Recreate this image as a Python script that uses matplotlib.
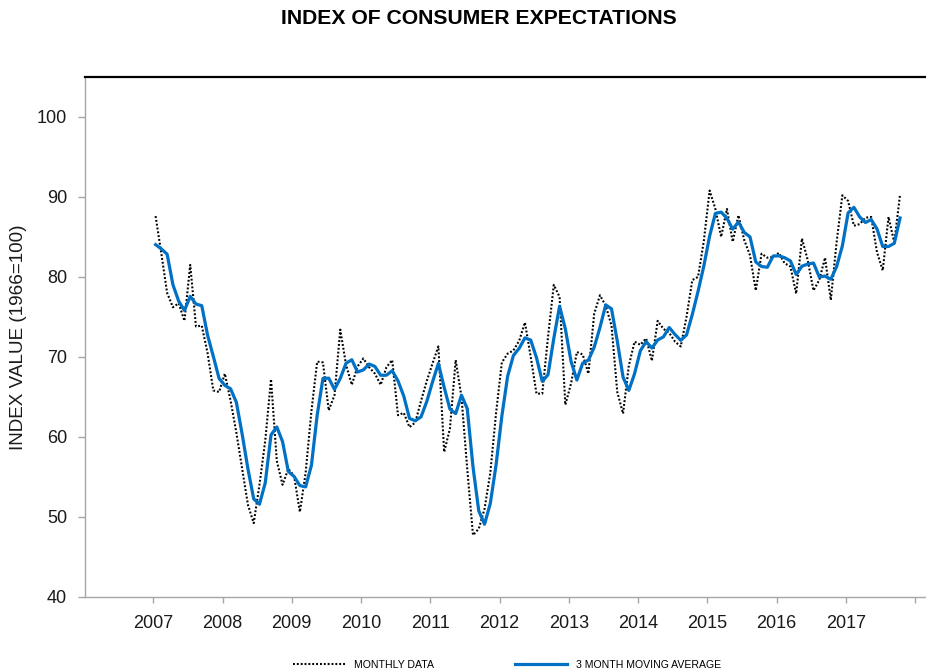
import matplotlib
matplotlib.use("Agg")
import matplotlib.pyplot as plt
import numpy as np
import pandas as pd

plt.rcParams['font.family'] = ['Liberation Sans', 'DejaVu Sans']

# ---------------- data ----------------
title = "INDEX OF CONSUMER EXPECTATIONS"
y_label = "INDEX VALUE (1966=100)"
legend_labels = ["MONTHLY DATA", "3 MONTH MOVING AVERAGE"]
first_year = 2007
# Nov-Dec 2006, needed only for the first moving-average points
prior_months = [84.5, 80.0]
# monthly index, Jan 2007 - Oct 2017
monthly = [
    87.6, 82.9, 78.0, 76.2, 76.7, 74.5, 81.5, 73.8, 73.9, 70.5, 65.8, 65.6,   # 2007
    67.9, 64.5, 60.5, 56.0, 51.5, 49.2, 54.0, 59.5, 67.2, 57.0, 54.0, 56.0,   # 2008
    55.1, 50.6, 55.5, 63.2, 69.4, 69.3, 63.3, 65.2, 73.4, 69.0, 66.5, 68.8,   # 2009
    69.8, 68.7, 67.9, 66.5, 68.7, 69.6, 62.7, 63.0, 61.2, 61.8, 64.5, 67.0,   # 2010
    69.2, 71.3, 58.1, 61.0, 69.6, 65.0, 56.0, 47.7, 48.5, 51.0, 55.5, 63.0,   # 2011
    69.3, 70.4, 70.8, 72.0, 74.3, 70.0, 65.4, 65.4, 72.5, 79.0, 77.5, 64.0,   # 2012
    66.7, 70.6, 70.3, 67.9, 75.4, 77.7, 76.4, 73.9, 65.6, 62.9, 68.9, 71.9,   # 2013
    71.5, 72.3, 69.5, 74.5, 73.5, 73.0, 71.9, 71.3, 75.0, 79.6, 80.0, 84.5,   # 2014
    90.8, 88.5, 85.0, 88.5, 84.4, 87.7, 84.6, 82.7, 78.3, 82.9, 82.4, 82.5,   # 2015
    83.0, 81.7, 81.3, 77.9, 84.8, 82.1, 78.3, 79.6, 82.4, 77.1, 84.3, 90.2,   # 2016
    89.5, 86.4, 86.6, 87.4, 87.5, 83.1, 80.8, 87.5, 84.3, 90.3,               # 2017
]
year_ticks = list(range(2007, 2019))
year_labels = [str(y) for y in range(2007, 2018)] + [""]
y_ticks = [40, 50, 60, 70, 80, 90, 100]

# 3-month trailing moving average
moving_avg = pd.Series(prior_months + monthly).rolling(3).mean().iloc[len(prior_months):].to_numpy()

# ---------------- figure ----------------
W, H = 926, 669
fig = plt.figure(figsize=(W / 100, H / 100), dpi=100)
fig.patch.set_facecolor('white')

ax_left, ax_right, ax_top, ax_bottom = 85, 926, 77, 596.7
ax = fig.add_axes([ax_left / W, (H - ax_bottom) / H,
                   (ax_right - ax_left) / W, (ax_bottom - ax_top) / H])

n = len(monthly)
x = first_year + (np.arange(n) + 0.4) / 12.0

blue = '#0071C5'
ax.plot(x, monthly, color='black', lw=1.5, linestyle=(0, (0.9, 0.95)),
        label=legend_labels[0], zorder=2)
ax.plot(x, moving_avg, color=blue, lw=2.3, solid_joinstyle='round',
        label=legend_labels[1], zorder=3)

ax.set_xlim(2006.014, 2018.158)
ax.set_ylim(40, 105)

ax.set_yticks(y_ticks)
ax.set_yticklabels([str(v) for v in y_ticks])
ax.set_xticks(year_ticks)
ax.set_xticklabels(year_labels)

grey = '#a6a6a6'
ax.spines['right'].set_visible(False)
ax.spines['top'].set_color('black')
ax.spines['top'].set_linewidth(1.6)
for s in ['left', 'bottom']:
    ax.spines[s].set_color(grey)
    ax.spines[s].set_linewidth(1.0)

ax.tick_params(axis='y', direction='out', length=5, width=1.0, color=grey,
               labelsize=13, labelcolor='#1a1a1a', pad=8)
ax.tick_params(axis='x', direction='out', length=4, width=1.0, color=grey,
               labelsize=13, labelcolor='#1a1a1a', pad=9)

fig.text(479 / W, 1 - 18.5 / H, title, ha='center', va='center',
         fontsize=15.2, fontweight='bold', color='black')
fig.text(18.5 / W, 1 - 337 / H, y_label, ha='center', va='center',
         rotation=90, fontsize=13.6, color='#1a1a1a')

handles, labels = ax.get_legend_handles_labels()
fig.legend(handles, labels, loc='center', bbox_to_anchor=(507 / W, 1 - 664.5 / H),
           ncol=2, frameon=False, fontsize=7.6, handlelength=5.0,
           handletextpad=0.8, columnspacing=7.6, borderpad=0, borderaxespad=0)

fig.savefig('out.png', dpi=100, facecolor='white')
